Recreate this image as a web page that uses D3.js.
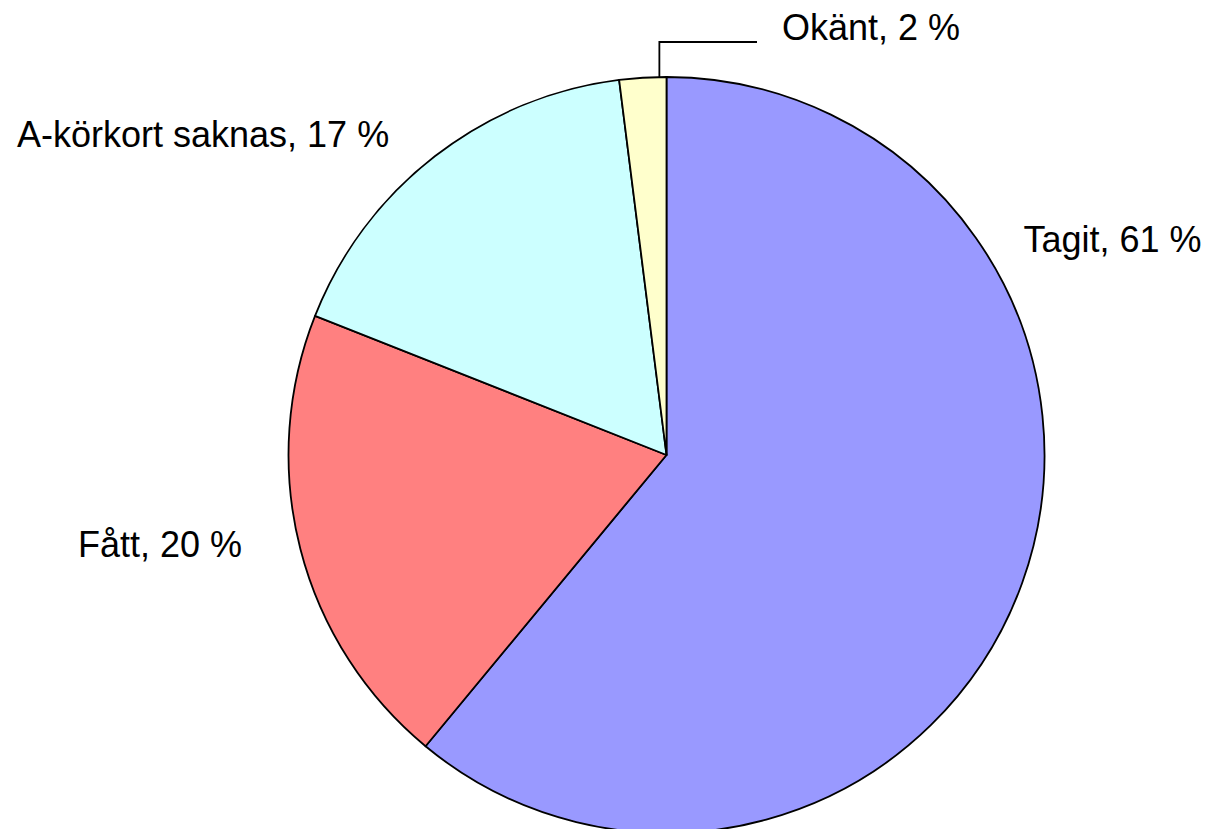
<!DOCTYPE html>
<html>
<head>
<meta charset="utf-8">
<script src="https://cdn.jsdelivr.net/npm/d3@7"></script>
<style>
  body { margin: 0; background: #fff; }
  text { font-family: Arial, "Liberation Sans", sans-serif; fill: #000; }
</style>
</head>
<body>
<svg id="chart" width="1213" height="829"></svg>
<script>
// slice data, clockwise from 12 o'clock
var categories = ['Tagit', 'Fått', 'A-körkort saknas', 'Okänt'];
var values = [61, 20, 17, 2];
var colors = ['#9999FF', '#FF8080', '#CCFFFF', '#FFFFCC'];

var cx = 666.5, cy = 455, radius = 378;

var svg = d3.select('#chart');
var g = svg.append('g').attr('transform', 'translate(' + cx + ',' + cy + ')');

var pie = d3.pie().sort(null).value(function(d) { return d.value; });
var arc = d3.arc().innerRadius(0).outerRadius(radius);

var rows = categories.map(function(c, i) { return { name: c, value: values[i], color: colors[i] }; });
var arcs = pie(rows);

g.selectAll('path.slice')
  .data(arcs)
  .enter().append('path')
  .attr('class', 'slice')
  .attr('d', arc)
  .attr('fill', function(d) { return d.data.color; })
  .attr('stroke', '#000')
  .attr('stroke-width', 1.8)
  .attr('stroke-linejoin', 'round');

// label placement relative to the pie centre (text start / baseline)
var labelPos = [
  { dx: 357, dy: -203 },   // Tagit
  { dx: -588.5, dy: 102 }, // Fått
  { dx: -649.5, dy: -308 },// A-körkort saknas
  { dx: 115.5, dy: -415 }  // Okänt
];

g.selectAll('text.lbl')
  .data(arcs)
  .enter().append('text')
  .attr('class', 'lbl')
  .attr('x', function(d, i) { return labelPos[i].dx; })
  .attr('y', function(d, i) { return labelPos[i].dy; })
  .attr('font-size', 36)
  .text(function(d) { return d.data.name + ', ' + d.data.value + ' %'; });

// leader line for the small slice, elbow up to the label
var small = arcs[3];
var a = small.endAngle - 0.15 * (small.endAngle - small.startAngle);
var px = Math.sin(a) * radius, py = -Math.cos(a) * radius;
var ly = labelPos[3].dy + 2;
g.append('path')
  .attr('d', 'M' + px + ',' + py + ' L' + px + ',' + ly + ' L' + (labelPos[3].dx - 25) + ',' + ly)
  .attr('fill', 'none')
  .attr('stroke', '#000')
  .attr('stroke-width', 1.8);
</script>
</body>
</html>
